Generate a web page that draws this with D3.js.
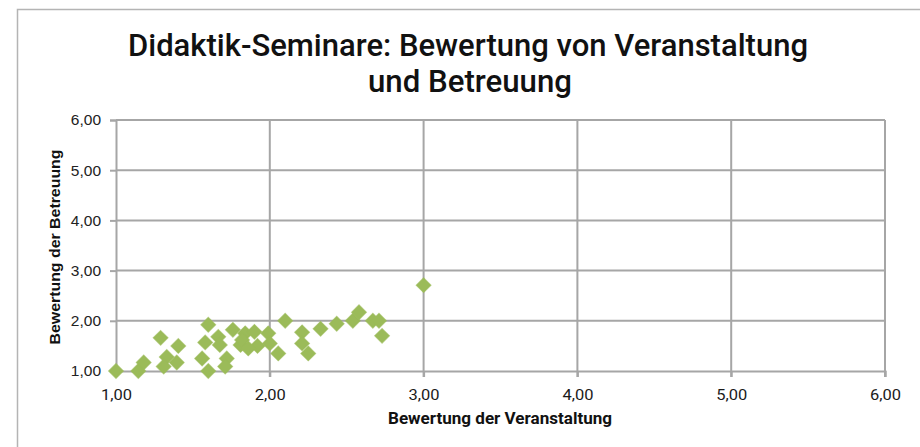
<!DOCTYPE html>
<html>
<head>
<meta charset="utf-8">
<script src="https://cdn.jsdelivr.net/npm/d3@7"></script>
<style>
  html, body { margin: 0; padding: 0; background: #fff; }
  svg { display: block; }
</style>
</head>
<body>
<div id="chart"></div>
<script>
// #region Data
const veranstaltung = [
  1.00, 1.145, 1.18, 1.29, 1.405, 1.33, 1.31, 1.395,
  1.56, 1.60, 1.60, 1.58, 1.665, 1.675, 1.72, 1.71,
  1.76, 1.84, 1.81, 1.92, 1.82, 1.90, 1.86,
  1.99, 2.00, 2.055, 2.10, 2.21, 2.21, 2.25, 2.33,
  2.435, 2.54, 2.58, 2.67, 2.71, 2.73, 3.00,
];
const betreuung = [
  1.00, 1.00, 1.17, 1.66, 1.50, 1.28, 1.09, 1.17,
  1.25, 1.00, 1.92, 1.57, 1.68, 1.52, 1.25, 1.09,
  1.82, 1.75, 1.52, 1.50, 1.62, 1.78, 1.45,
  1.75, 1.55, 1.35, 2.00, 1.77, 1.55, 1.35, 1.84,
  1.94, 2.00, 2.17, 2.00, 2.00, 1.70, 2.71,
];
const ticks = [1, 2, 3, 4, 5, 6];
const titleLines = ['Didaktik-Seminare: Bewertung von Veranstaltung', 'und Betreuung'];
const xTitle = 'Bewertung der Veranstaltung';
const yTitle = 'Bewertung der Betreuung';
// #endregion

// #region Setup
const width = 920;
const height = 447;
const plot = { left: 116, right: 885, top: 120, bottom: 371 };
const roboto = 'Roboto, "Noto Sans", sans-serif';
const arial = '"Liberation Sans", Arial, sans-serif';
const gridColor = '#a6a6a6';
const pointColor = '#9bbb59';

const svg = d3.select('#chart').append('svg')
  .attr('width', width)
  .attr('height', height);

// chart frame
svg.append('rect')
  .attr('x', 17.5).attr('y', 9.5)
  .attr('width', 960).attr('height', 500)
  .attr('fill', 'none')
  .attr('stroke', '#b4b4b4')
  .attr('stroke-width', 1.5);

const x = d3.scaleLinear().domain([1, 6]).range([plot.left, plot.right]);
const y = d3.scaleLinear().domain([1, 6]).range([plot.bottom, plot.top]);

const fmt = d => d3.format('.2f')(d).replace('.', ',');
// #endregion

// #region Grid
svg.append('g')
  .selectAll('line')
  .data(ticks.slice(1))
  .join('line')
  .attr('x1', plot.left).attr('x2', plot.right)
  .attr('y1', d => y(d)).attr('y2', d => y(d))
  .attr('stroke', gridColor).attr('stroke-width', 2);

svg.append('g')
  .selectAll('line')
  .data(ticks.slice(1))
  .join('line')
  .attr('x1', d => x(d)).attr('x2', d => x(d))
  .attr('y1', plot.top).attr('y2', plot.bottom + 6)
  .attr('stroke', gridColor).attr('stroke-width', 2);
// #endregion

// #region Axes
const xAxis = svg.append('g')
  .attr('transform', `translate(0,${plot.bottom})`)
  .call(d3.axisBottom(x).tickValues(ticks).tickFormat(fmt).tickSize(6).tickPadding(12));
xAxis.select('.domain').attr('stroke', gridColor).attr('stroke-width', 2);
xAxis.selectAll('.tick line').attr('stroke', gridColor).attr('stroke-width', 2);
xAxis.selectAll('.tick text')
  .attr('font-family', roboto)
  .attr('font-size', 15.5)
  .attr('textLength', 31)
  .attr('lengthAdjust', 'spacingAndGlyphs')
  .attr('fill', '#1a1a1a');

const yAxis = svg.append('g')
  .attr('transform', `translate(${plot.left},0)`)
  .call(d3.axisLeft(y).tickValues(ticks).tickFormat(fmt).tickSize(6).tickPadding(9));
yAxis.select('.domain').attr('stroke', gridColor).attr('stroke-width', 2);
yAxis.selectAll('.tick line').attr('stroke', gridColor).attr('stroke-width', 2);
yAxis.selectAll('.tick text')
  .attr('font-family', arial)
  .attr('font-size', 15.5)
  .attr('fill', '#222');
// #endregion

// #region Points
const points = veranstaltung.map((v, i) => ({ x: v, y: betreuung[i] }));
const diamond = d3.symbol().type(d3.symbolSquare).size(112);

svg.append('g')
  .selectAll('path')
  .data(points)
  .join('path')
  .attr('d', diamond)
  .attr('transform', d => `translate(${x(d.x)},${y(d.y)}) rotate(45)`)
  .attr('fill', pointColor)
  .attr('stroke', pointColor)
  .attr('stroke-width', 1)
  .attr('stroke-opacity', 0.6);
// #endregion

// #region Titles
svg.append('text')
  .attr('x', 468).attr('y', 56)
  .attr('text-anchor', 'middle')
  .attr('font-family', roboto)
  .attr('font-weight', 500)
  .attr('font-size', 31.5)
  .attr('textLength', 680)
  .attr('lengthAdjust', 'spacingAndGlyphs')
  .attr('fill', '#111')
  .text(titleLines[0]);

svg.append('text')
  .attr('x', 470).attr('y', 92)
  .attr('text-anchor', 'middle')
  .attr('font-family', roboto)
  .attr('font-weight', 500)
  .attr('font-size', 31.5)
  .attr('textLength', 204)
  .attr('lengthAdjust', 'spacingAndGlyphs')
  .attr('fill', '#111')
  .text(titleLines[1]);

svg.append('text')
  .attr('x', 500).attr('y', 424)
  .attr('text-anchor', 'middle')
  .attr('font-family', roboto)
  .attr('font-weight', 700)
  .attr('font-size', 16)
  .attr('textLength', 224)
  .attr('lengthAdjust', 'spacingAndGlyphs')
  .attr('fill', '#111')
  .text(xTitle);

svg.append('text')
  .attr('transform', 'translate(60,247) rotate(-90)')
  .attr('text-anchor', 'middle')
  .attr('font-family', arial)
  .attr('font-weight', 'bold')
  .attr('font-size', 14)
  .attr('textLength', 195)
  .attr('lengthAdjust', 'spacingAndGlyphs')
  .attr('fill', '#111')
  .text(yTitle);
// #endregion
</script>
</body>
</html>
